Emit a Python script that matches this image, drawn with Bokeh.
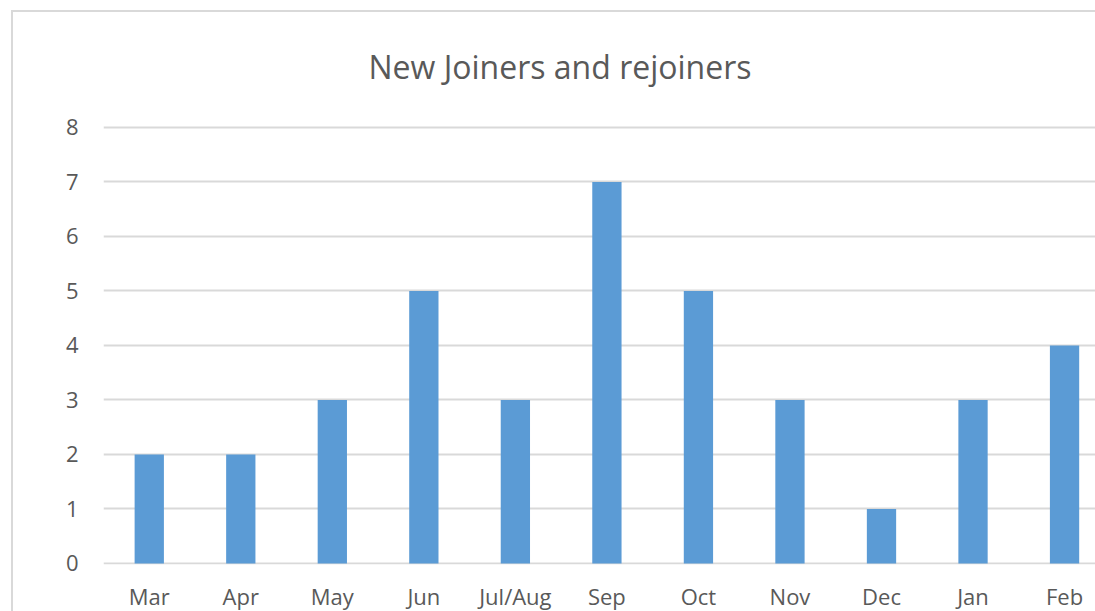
from bokeh.plotting import figure
from bokeh.models import Range1d, FixedTicker
from bokeh.embed import file_html
from bokeh.resources import INLINE

months = ["Mar", "Apr", "May", "Jun", "Jul/Aug", "Sep", "Oct", "Nov", "Dec", "Jan", "Feb"]
joiners = [2, 2, 3, 5, 3, 7, 5, 3, 1, 3, 4]
y_ticks = [0, 1, 2, 3, 4, 5, 6, 7, 8]
title_text = "New Joiners and rejoiners"

positions = list(range(len(months)))

FONT = "Open Sans"
TXT = "#595959"
GRID = "#d9d9d9"

p = figure(width=1084, height=601, output_backend="svg", toolbar_location=None,
           x_range=Range1d(-0.5, 10.36), y_range=Range1d(-0.02, 8.11),
           title=title_text)
p.margin = (10, 0, 0, 11)
p.styles = {"border-left": "2px solid #d9d9d9", "border-top": "2px solid #d9d9d9",
            "box-sizing": "border-box"}

p.min_border_left = 90
p.min_border_right = 0
p.min_border_top = 109
p.min_border_bottom = 45
p.outline_line_color = None
p.background_fill_color = "white"
p.border_fill_color = "white"

p.title.text_font = FONT
p.title.text_font_size = "32px"
p.title.text_font_style = "normal"
p.title.text_color = TXT
p.title.align = "left"
p.title.vertical_align = "top"
p.title.offset = 265
p.title.standoff = 64

p.vbar(x=positions, top=joiners, width=0.32, bottom=0, fill_color="#5b9bd5", line_color=None)

p.xaxis.ticker = FixedTicker(ticks=positions)
p.xaxis.major_label_overrides = {i: m for i, m in enumerate(months)}
p.xaxis.major_tick_line_color = None
p.xaxis.minor_tick_line_color = None
p.xaxis.axis_line_color = None
p.xaxis.major_label_text_font = FONT
p.xaxis.major_label_text_font_size = "22px"
p.xaxis.major_label_text_color = TXT
p.xaxis.major_label_standoff = 10

p.yaxis.ticker = FixedTicker(ticks=y_ticks)
p.yaxis.major_tick_line_color = None
p.yaxis.minor_tick_line_color = None
p.yaxis.axis_line_color = None
p.yaxis.major_label_text_font = FONT
p.yaxis.major_label_text_font_size = "22px"
p.yaxis.major_label_text_color = TXT
p.yaxis.major_label_standoff = 19

p.xgrid.grid_line_color = None
p.ygrid.grid_line_color = GRID
p.ygrid.grid_line_width = 2

open("out.html", "w").write(file_html(p, INLINE))
